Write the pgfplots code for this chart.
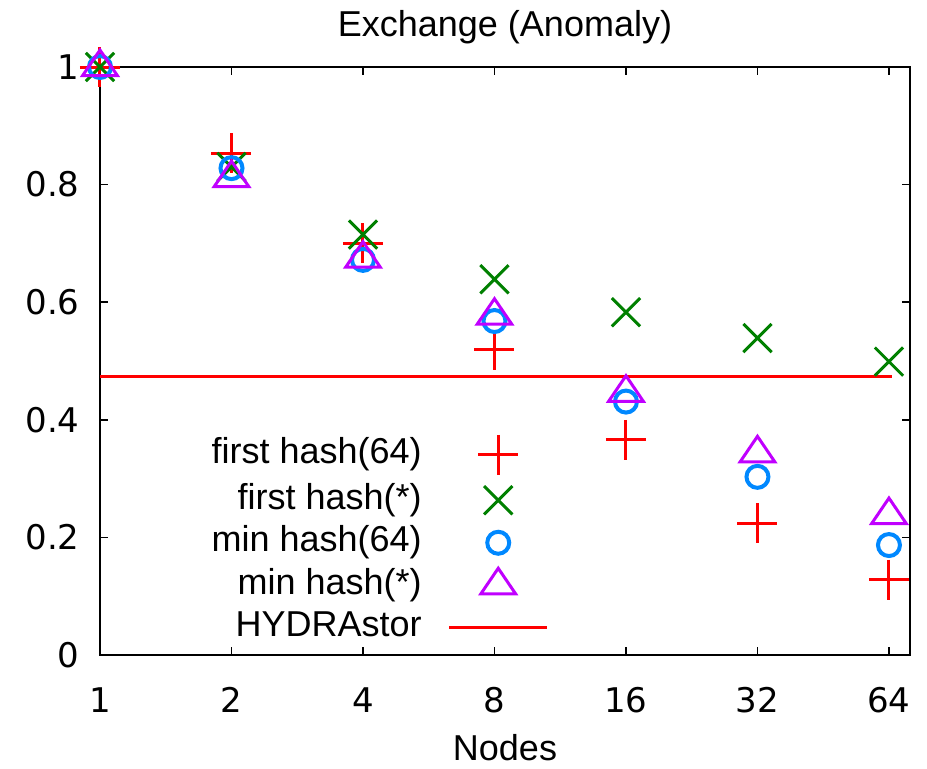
\documentclass[border=0pt]{standalone}
\usepackage{fontspec}
\setmainfont{Liberation Sans}
\newfontfamily\dejavu{DejaVu Sans}
\usepackage{pgfplots}
\pgfplotsset{compat=1.18}
\definecolor{gpgreen}{RGB}{0,128,0}
\definecolor{gpblue}{RGB}{0,136,255}
\definecolor{gppurple}{RGB}{192,0,255}
\pgfplotsset{
  marklegend/.style={legend image code/.code={\draw[##1] plot coordinates {(24.5pt,0pt)};}},
  linelegend/.style={legend image code/.code={\draw[##1] (0pt,0pt) -- (49pt,0pt);}},
}
\begin{document}
\fontsize{18}{21}\selectfont
\begin{tikzpicture}
\useasboundingbox (-50pt,-56.5pt) rectangle (413.5pt,327.5pt);
\begin{axis}[
  at={(0,0)}, anchor=south west,
  width=405pt, height=294pt, scale only axis,
  xmin=0, xmax=6.16, ymin=0, ymax=1,
  clip=false,
  axis line style={line width=0.8pt},
  tick style={line width=0.8pt, black},
  major tick length=4pt,
  tick align=inside, tick pos=both,
  xtick={0,1,2,3,4,5,6},
  xticklabels={1,2,4,8,16,32,64},
  ytick={0,0.2,0.4,0.6,0.8,1},
  yticklabels={0,0.2,0.4,0.6,0.8,1},
  ticklabel style={font=\dejavu\fontsize{17}{20}\selectfont},
  xticklabel style={anchor=center, inner sep=0pt, yshift=-22.5pt},
  yticklabel style={anchor=east, inner sep=0pt, xshift=-10pt},
  title={Exchange (Anomaly)},
  title style={at={(0.5,1)}, anchor=center, yshift=14pt, inner sep=0pt},
  xlabel={Nodes},
  xlabel style={at={(0.5,0)}, anchor=center, yshift=-46.5pt, inner sep=0pt},
  legend plot pos=right,
  legend cell align=right,
  legend style={draw=none, fill=none, at={(0.554,0.196)}, anchor=east,
    inner sep=0pt, outer sep=0pt, row sep=4.25pt, column sep=13pt,
    nodes={inner sep=0pt, text height=13pt, text depth=4pt}},
]
\addplot[only marks, red, mark=+, mark size=10pt, line width=1.5pt, marklegend]
  coordinates {(0,1.0) (1,0.853) (2,0.700) (3,0.519) (4,0.366) (5,0.224) (6,0.128)};
\addlegendentry{first hash(64)}
\addplot[only marks, gpgreen, mark=x, mark size=10pt, line width=1.5pt, marklegend]
  coordinates {(0,1.0) (1,0.830) (2,0.715) (3,0.639) (4,0.583) (5,0.539) (6,0.499)};
\addlegendentry{first hash(*)}
\addplot[only marks, gpblue, mark=o, mark size=5.5pt, line width=2pt, marklegend]
  coordinates {(0,1.0) (1,0.828) (2,0.672) (3,0.568) (4,0.431) (5,0.303) (6,0.187)};
\addlegendentry{min hash(64)}
\addplot[only marks, gppurple, mark=triangle, mark size=10pt, line width=1.5pt,
  mark options={yscale=0.85}, marklegend]
  coordinates {(0,1.0) (1,0.811) (2,0.674) (3,0.577) (4,0.446) (5,0.343) (6,0.238)};
\addlegendentry{min hash(*)}
\addplot[red, line width=1.5pt, no marks, linelegend]
  coordinates {(0,0.4745) (6.02,0.4745)};
\addlegendentry{HYDRAstor}
\end{axis}
\end{tikzpicture}
\end{document}
